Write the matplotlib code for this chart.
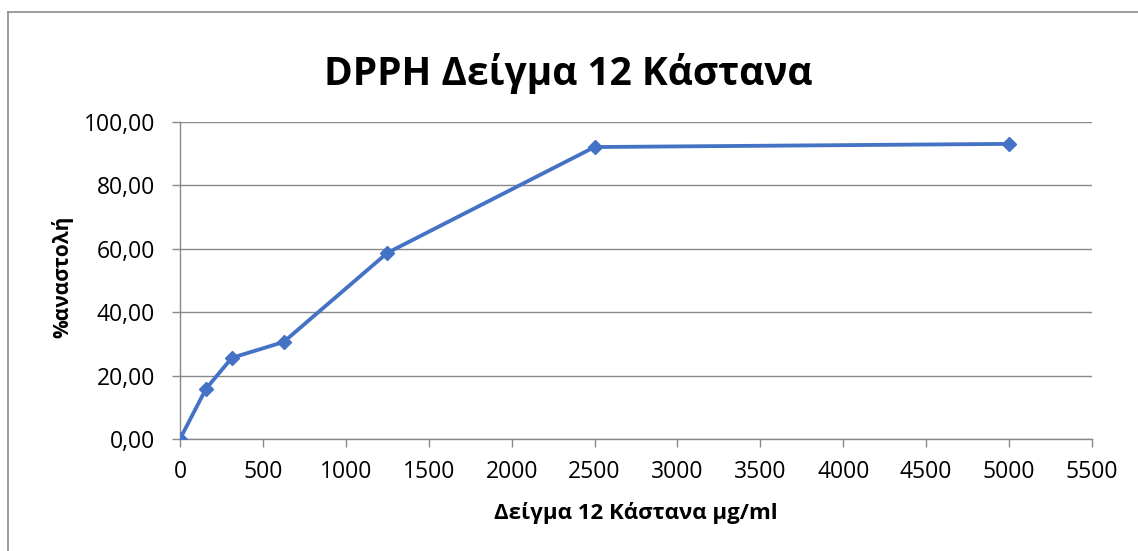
import matplotlib.pyplot as plt
from matplotlib.lines import Line2D
from matplotlib.ticker import FuncFormatter, MultipleLocator

# DPPH scavenging for sample 12 (chestnut)
concentration = [0, 156.25, 312.5, 625, 1250, 2500, 5000]
inhibition = [0.0, 15.8, 25.6, 30.6, 58.7, 92.1, 93.1]

title = "DPPH Δείγμα 12 Κάστανα"
xlabel = "Δείγμα 12 Κάστανα μg/ml"
ylabel = "%αναστολή"

line_color = "#4472C4"
grid_color = "#898989"
border_color = "#8C8C8C"

plt.rcParams["font.family"] = ["Open Sans", "DejaVu Sans"]

W, H = 1138, 551
fig = plt.figure(figsize=(W / 100, H / 100), dpi=100)
ax = fig.add_axes([180 / W, (H - 439) / H, 912 / W, 317 / H])

ax.plot(concentration, inhibition, color=line_color, linewidth=2.75,
        marker="D", markersize=7, zorder=3)

ax.set_xlim(0, 5500)
ax.set_ylim(0, 100)
ax.xaxis.set_major_locator(MultipleLocator(500))
ax.yaxis.set_major_locator(MultipleLocator(20))
ax.yaxis.set_major_formatter(FuncFormatter(lambda v, _: f"{v:.2f}".replace(".", ",")))

ax.grid(axis="y", color=grid_color, linewidth=1)
ax.set_axisbelow(True)
for side in ("top", "right"):
    ax.spines[side].set_visible(False)
for side in ("left", "bottom"):
    ax.spines[side].set_color(grid_color)
    ax.spines[side].set_linewidth(1)
ax.tick_params(axis="both", colors=grid_color, labelcolor="black",
               labelsize=16.5, length=6, width=1)
ax.tick_params(axis="x", pad=9)
ax.tick_params(axis="y", pad=12)

ax.set_xlabel(xlabel, fontsize=16, fontweight="bold", va="center")
ax.xaxis.set_label_coords(0.5, (439 - 513) / 317)
ax.set_ylabel(ylabel, fontsize=15, fontweight="bold", va="center")
ax.yaxis.set_label_coords((62 - 180) / 912, (439 - 277) / 317)

fig.text(568 / W, 1 - 73 / H, title, fontsize=28, fontweight="bold",
         ha="center", va="center")

# chart frame: top and left edges
fig.lines.append(Line2D([8 / W, 1], [1 - 12 / H, 1 - 12 / H], transform=fig.transFigure,
                        color=border_color, linewidth=1.2))
fig.lines.append(Line2D([8 / W, 8 / W], [0, 1 - 12 / H], transform=fig.transFigure,
                        color=border_color, linewidth=1.2))

fig.savefig("out.png", dpi=100)
